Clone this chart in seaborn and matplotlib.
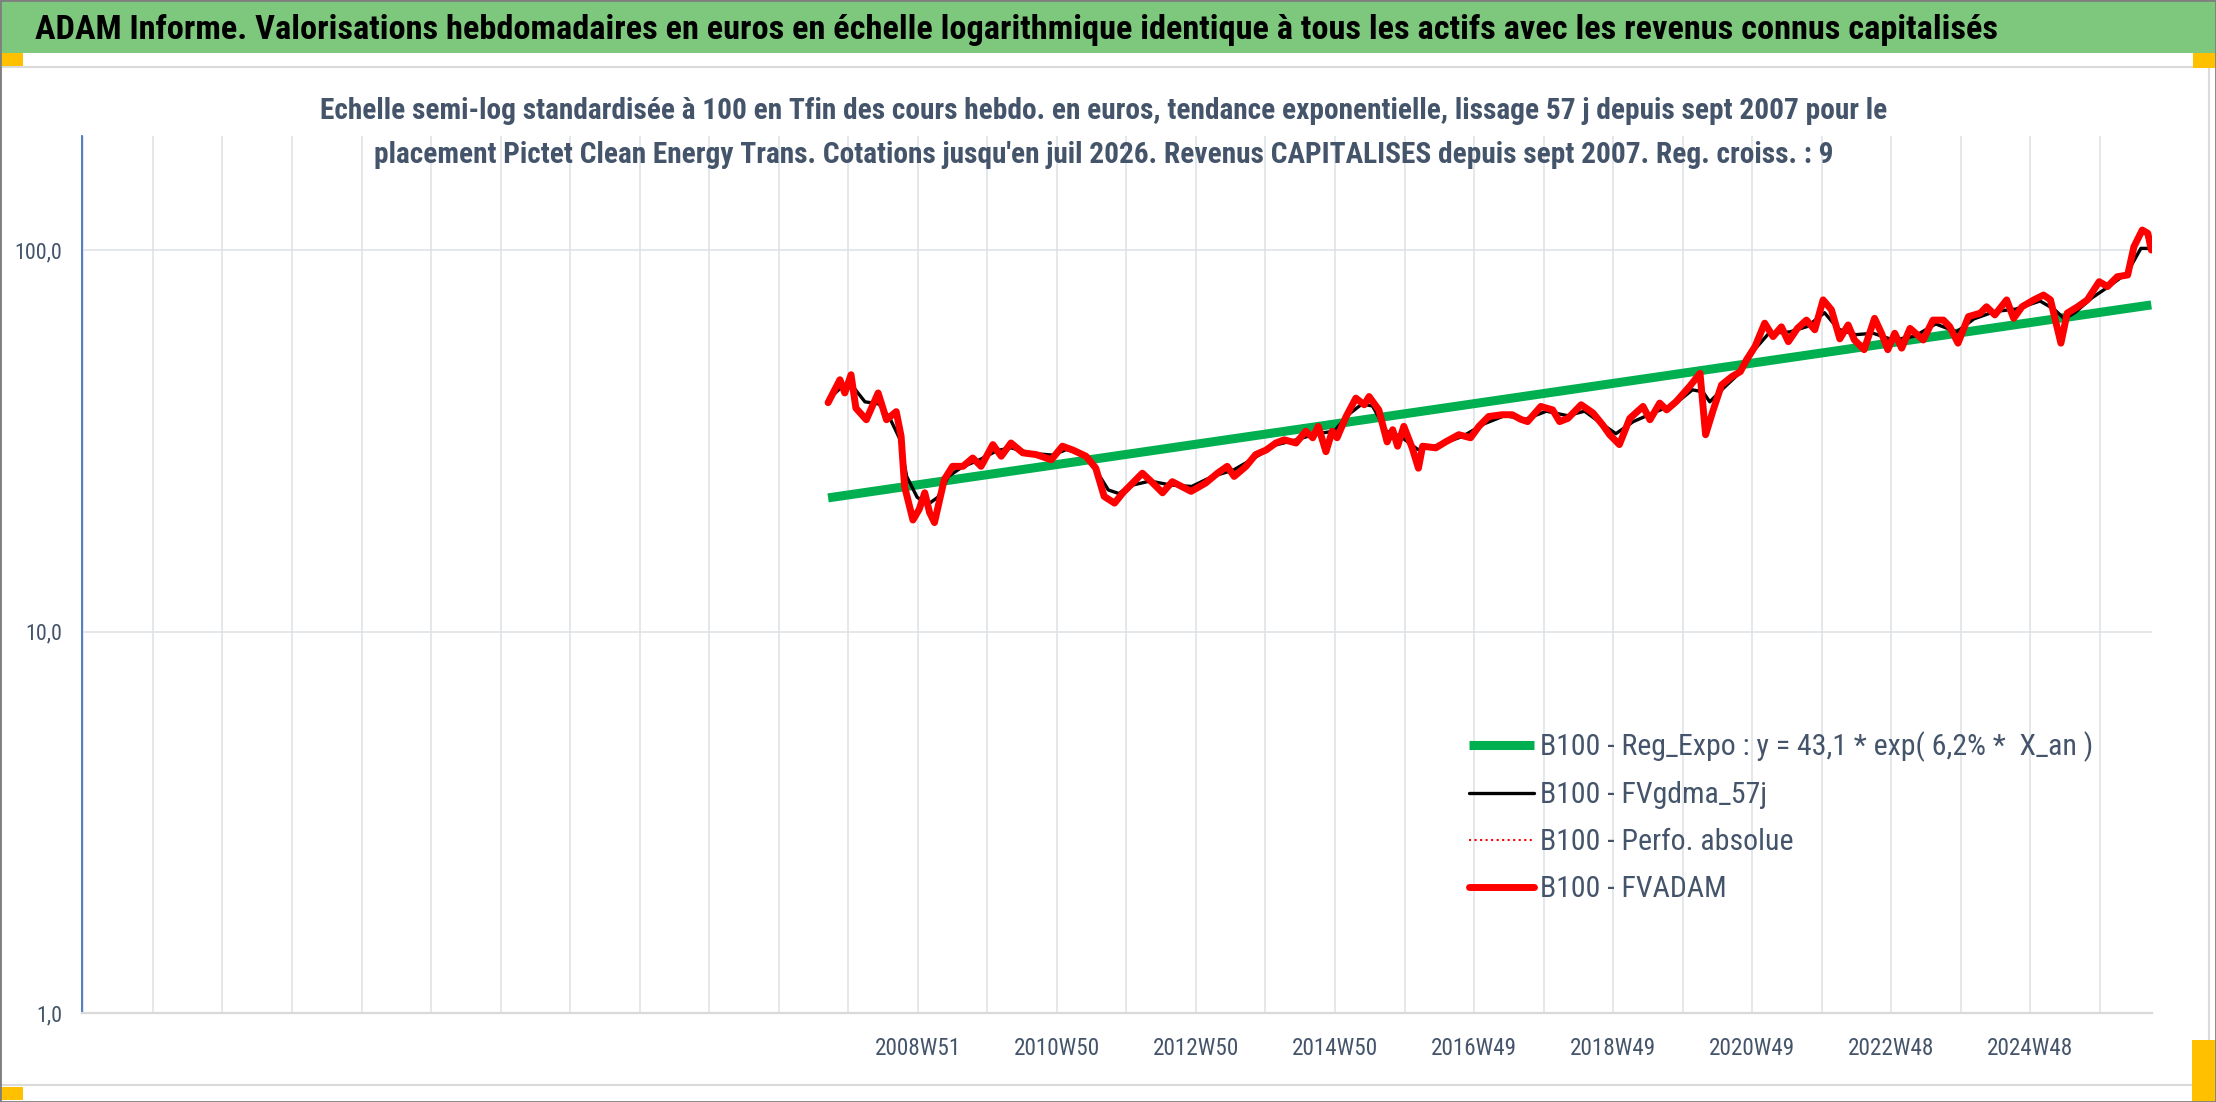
import numpy as np
import pandas as pd
import matplotlib
matplotlib.use("Agg")
import matplotlib.pyplot as plt
import seaborn as sns
from matplotlib import font_manager as fm
from matplotlib.patches import Rectangle
from matplotlib.ticker import FixedLocator, NullLocator

# ---- data (x in years, y = base 100 index) ----
red_x = [2007.67, 2007.84, 2007.91, 2008.00, 2008.07, 2008.22, 2008.39, 2008.51, 2008.65, 2008.72,
         2008.77, 2008.89, 2008.98, 2009.06, 2009.13, 2009.20, 2009.34, 2009.46, 2009.61, 2009.75,
         2009.87, 2010.04, 2010.16, 2010.30, 2010.47, 2010.66, 2010.88, 2011.04, 2011.19, 2011.38,
         2011.52, 2011.64, 2011.79, 2011.91, 2012.05, 2012.19, 2012.34, 2012.48, 2012.62, 2012.89,
         2013.10, 2013.27, 2013.41, 2013.51, 2013.68, 2013.82, 2013.97, 2014.11, 2014.23, 2014.40,
         2014.54, 2014.64, 2014.72, 2014.83, 2014.92, 2014.99, 2015.12, 2015.26, 2015.38, 2015.45,
         2015.59, 2015.71, 2015.79, 2015.86, 2015.95, 2016.07, 2016.16, 2016.22, 2016.41, 2016.55,
         2016.74, 2016.91, 2017.03, 2017.17, 2017.36, 2017.51, 2017.63, 2017.73, 2017.92, 2018.09,
         2018.19, 2018.31, 2018.50, 2018.67, 2018.81, 2018.91, 2019.05, 2019.20, 2019.39, 2019.49,
         2019.63, 2019.73, 2019.87, 2020.06, 2020.21, 2020.29, 2020.40, 2020.52, 2020.67, 2020.79,
         2020.88, 2021.00, 2021.14, 2021.26, 2021.38, 2021.48, 2021.61, 2021.74, 2021.86, 2021.98,
         2022.10, 2022.22, 2022.34, 2022.43, 2022.57, 2022.72, 2022.82, 2022.91, 2023.01, 2023.11,
         2023.23, 2023.42, 2023.56, 2023.71, 2023.80, 2023.92, 2024.07, 2024.24, 2024.33, 2024.45,
         2024.62, 2024.72, 2024.84, 2025.01, 2025.15, 2025.25, 2025.32, 2025.40, 2025.49, 2025.64,
         2025.78, 2025.95, 2026.07, 2026.21, 2026.36, 2026.45, 2026.57, 2026.65, 2026.70]
red_y = [39.8, 45.7, 42.2, 47.1, 38.5, 35.9, 42.2, 35.9, 37.7, 32.5,
         24.0, 19.6, 20.9, 23.1, 20.5, 19.3, 25.0, 27.1, 27.1, 28.5,
         27.1, 30.9, 28.8, 31.2, 29.4, 29.1, 28.2, 30.6, 29.9, 28.8,
         26.8, 22.6, 21.7, 23.1, 24.5, 26.0, 24.5, 23.1, 24.7, 23.3,
         24.5, 26.0, 27.1, 25.5, 27.1, 29.1, 29.9, 31.2, 31.8, 31.2,
         33.5, 32.2, 34.5, 29.6, 33.5, 32.2, 36.6, 40.9, 39.3, 41.3,
         38.1, 31.4, 33.8, 30.6, 34.5, 30.3, 26.8, 30.6, 30.3, 31.4,
         32.8, 32.2, 34.5, 36.6, 37.0, 37.0, 36.0, 35.5, 38.9, 38.1,
         35.5, 36.2, 39.3, 37.4, 34.8, 32.8, 30.9, 36.2, 38.9, 35.9,
         39.7, 38.1, 40.1, 43.9, 47.5, 32.8, 38.1, 44.3, 46.6, 48.0,
         51.6, 55.8, 64.3, 59.3, 62.9, 57.5, 62.3, 65.5, 61.8, 74.0,
         69.7, 58.5, 63.6, 58.1, 54.8, 66.2, 60.5, 54.8, 60.5, 55.3,
         62.3, 58.1, 65.5, 65.5, 63.0, 57.0, 66.9, 68.3, 71.0, 67.6,
         74.0, 66.2, 71.0, 74.0, 76.2, 74.0, 65.5, 57.0, 68.3, 71.0,
         74.0, 82.6, 80.2, 85.1, 86.0, 102.0, 112.8, 110.6, 100.0]

black_x = [2007.67, 2007.85, 2008.00, 2008.20, 2008.40, 2008.55, 2008.70, 2008.80, 2008.95, 2009.10,
           2009.25, 2009.40, 2009.60, 2009.85, 2010.10, 2010.30, 2010.60, 2010.90, 2011.10, 2011.35,
           2011.55, 2011.70, 2011.85, 2012.05, 2012.30, 2012.60, 2012.90, 2013.20, 2013.50, 2013.80,
           2014.10, 2014.40, 2014.70, 2014.95, 2015.15, 2015.35, 2015.50, 2015.70, 2015.90, 2016.15,
           2016.45, 2016.80, 2017.10, 2017.40, 2017.70, 2018.00, 2018.30, 2018.55, 2018.80, 2019.00,
           2019.25, 2019.55, 2019.85, 2020.10, 2020.25, 2020.35, 2020.55, 2020.80, 2021.00, 2021.20,
           2021.50, 2021.75, 2022.00, 2022.20, 2022.45, 2022.70, 2023.00, 2023.30, 2023.60, 2023.90,
           2024.15, 2024.45, 2024.75, 2025.10, 2025.30, 2025.45, 2025.60, 2025.85, 2026.10, 2026.35,
           2026.55, 2026.70]
black_y = [40.5, 43.5, 44.5, 40.0, 39.5, 36.5, 32.0, 25.5, 22.5, 21.5,
           22.5, 25.5, 27.0, 28.2, 29.8, 30.3, 29.3, 29.0, 30.0, 29.0,
           26.0, 23.5, 23.0, 24.2, 24.8, 24.2, 24.0, 25.5, 26.5, 28.5,
           30.8, 31.8, 33.0, 33.5, 37.0, 39.5, 39.0, 33.5, 32.5, 30.0,
           30.8, 32.5, 35.0, 36.8, 36.0, 37.8, 36.8, 37.8, 35.0, 33.0,
           35.5, 37.5, 39.5, 43.0, 42.5, 40.0, 43.5, 48.0, 55.0, 60.5,
           61.0, 63.0, 68.5, 62.0, 60.0, 60.5, 58.0, 59.5, 64.0, 61.0,
           66.0, 69.0, 70.0, 73.5, 70.0, 66.0, 68.5, 75.0, 80.5, 87.0,
           101.0, 101.0]

green_x = [2007.67, 2026.70]
green_y = [22.4, 71.8]

x_tick_labels = ["2008W51", "2010W50", "2012W50", "2014W50", "2016W49",
                 "2018W49", "2020W49", "2022W48", "2024W48"]
y_ticks = [1, 10, 100]
y_tick_labels = ["1,0", "10,0", "100,0"]

labels = ["B100 - Reg_Expo : y = 43,1 * exp( 6,2% *  X_an )",
          "B100 - FVgdma_57j",
          "B100 - Perfo. absolue",
          "B100 - FVADAM"]

title = ("ADAM Informe. Valorisations hebdomadaires en euros en échelle logarithmique "
         "identique à tous les actifs avec les revenus connus capitalisés")
sub1 = ("Echelle semi-log standardisée à 100 en Tfin des cours hebdo. en euros, tendance "
        "exponentielle, lissage 57 j depuis sept 2007 pour le")
sub2 = ("placement Pictet Clean Energy Trans. Cotations jusqu'en juil 2026. Revenus "
        "CAPITALISES depuis sept 2007. Reg. croiss. : 9")

# ---- style ----
sns.set_theme(style="white")
available = {f.name for f in fm.fontManager.ttflist}
font = "DejaVu Sans"
for cand in ["Liberation Sans Narrow", "Roboto Condensed", "Open Sans Condensed",
             "DejaVu Sans Condensed", "Liberation Sans"]:
    if cand in available:
        font = cand
        break
plt.rcParams["font.family"] = [font, "DejaVu Sans"]

slate = "#44546A"
W, H = 2216, 1102


def fx(px):
    return px / W


def fy(py):
    return 1 - py / H


fig = plt.figure(figsize=(W / 100, H / 100), dpi=100, facecolor="white")
renderer = fig.canvas.get_renderer()


def fit(s, target_w, weight="normal"):
    t = fig.text(0, 0, s, fontsize=20, fontweight=weight)
    bb = t.get_window_extent(renderer)
    t.remove()
    k = target_w / bb.width
    return 20 * k, bb.height * k


# frame decorations
fig.patches.append(Rectangle((0, fy(53)), 1, 53 / H, transform=fig.transFigure,
                             facecolor="#7DC87D", edgecolor="none", zorder=0))
fig.patches.append(Rectangle((fx(1), fy(1085)), (2209 - 1) / W, (1085 - 67) / H,
                             transform=fig.transFigure, fill=False,
                             edgecolor="#DADADA", lw=1.5, zorder=0))
for (x0, y0, x1, y1) in [(0, 53, 23, 66), (2193, 53, 2216, 68),
                         (0, 1087, 23, 1100), (2192, 1040, 2216, 1102)]:
    fig.patches.append(Rectangle((fx(x0), fy(y1)), (x1 - x0) / W, (y1 - y0) / H,
                                 transform=fig.transFigure, facecolor="#FFC000",
                                 edgecolor="none", zorder=1))
fig.patches.append(Rectangle((0, 0), 1, 1, transform=fig.transFigure, fill=False,
                             edgecolor="#7F7F7F", lw=2, zorder=2))

# titles
fs, _ = fit(title, 1960, "bold")
fig.text(fx(35), fy(30), title, ha="left", va="center", fontsize=fs,
         fontweight="bold", color="black")
fs1, _ = fit(sub1, 1566, "bold")
fig.text(fx(1104), fy(111), sub1, ha="center", va="center", fontsize=fs1,
         fontweight="bold", color=slate)
fig.text(fx(1104), fy(155), sub2, ha="center", va="center", fontsize=fs1,
         fontweight="bold", color=slate)

# ---- axes ----
ax = fig.add_axes([fx(82), fy(1013), (2152 - 82) / W, (1013 - 136) / H])
ax.set_facecolor("white")
ax.set_axisbelow(True)

df_green = pd.DataFrame({"x": green_x, "y": green_y})
df_black = pd.DataFrame({"x": black_x, "y": black_y})
df_red = pd.DataFrame({"x": red_x, "y": red_y})

sns.lineplot(data=df_green, x="x", y="y", ax=ax, color="#00B050", lw=6.5,
             label=labels[0], errorbar=None, solid_capstyle="butt")
sns.lineplot(data=df_black, x="x", y="y", ax=ax, color="black", lw=2.4,
             label=labels[1], errorbar=None)
sns.lineplot(data=df_red, x="x", y="y", ax=ax, color="#FF0000", lw=1.5,
             linestyle=":", label=labels[2], errorbar=None)
sns.lineplot(data=df_red, x="x", y="y", ax=ax, color="#FF0000", lw=5.0,
             label=labels[3], errorbar=None)

ax.set_yscale("log")
ax.set_ylim(1, 199)
ax.set_xlim(1996.94, 2026.71)
ax.set_xlabel("")
ax.set_ylabel("")

grid_years = np.arange(1996.96, 2026.0, 1.0)
xlabs = [""] * len(grid_years)
for i, lab in enumerate(x_tick_labels):
    xlabs[12 + 2 * i] = lab
ax.xaxis.set_major_locator(FixedLocator(grid_years))
ax.set_xticklabels(xlabs)
ax.yaxis.set_major_locator(FixedLocator(y_ticks))
ax.yaxis.set_minor_locator(NullLocator())
ax.set_yticklabels(y_tick_labels)

ax.grid(True, which="major", color="#DDE1E6", lw=1.1)
for s in ["top", "right"]:
    ax.spines[s].set_visible(False)
ax.spines["left"].set_color("#4472C4")
ax.spines["left"].set_linewidth(1.3)
ax.spines["bottom"].set_color("#D9D9D9")
ax.spines["bottom"].set_linewidth(1.6)

fsy, _ = fit("100,0", 48)
fsx, _ = fit("2008W51", 86)
ax.tick_params(axis="y", length=0, pad=14.4, labelsize=fsy, labelcolor=slate)
ax.tick_params(axis="x", length=6.5, width=1.1, color="#D9D9D9", pad=11,
               labelsize=fsx, labelcolor=slate)

# legend
fsl, hl = fit(labels[0], 554)
fs_px = fsl * 100 / 72
handles, _ = ax.get_legend_handles_labels()
ax.legend(handles, labels, loc="upper left",
          bbox_to_anchor=(fx(1469), fy(747 - hl / 2)), bbox_transform=fig.transFigure,
          frameon=False, fontsize=fsl, labelcolor=slate, borderpad=0, borderaxespad=0,
          handlelength=65 / fs_px, handletextpad=6 / fs_px,
          labelspacing=max(0.05, (50 - hl) / fs_px))

fig.savefig("out.png", dpi=100, facecolor="white")
